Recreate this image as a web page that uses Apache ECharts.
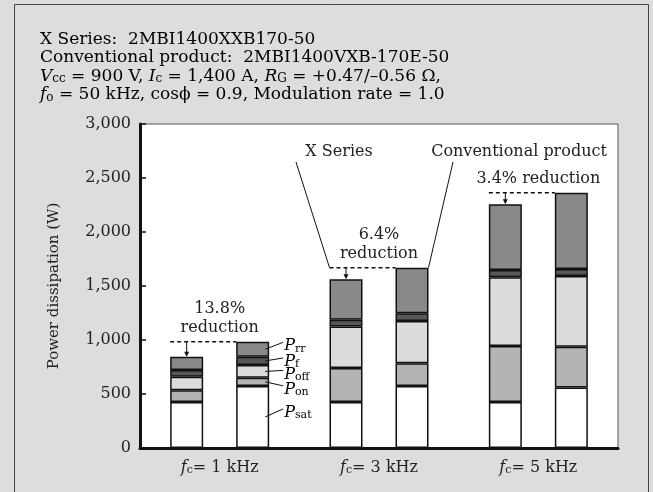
<!DOCTYPE html>
<html lang="en">

<head>
  <meta charset="UTF-8">
  <script src="https://cdn.jsdelivr.net/npm/echarts@6/dist/echarts.min.js"></script>
  <style>
    html, body { margin: 0; padding: 0; background: #dcdddc; }
    #chart { width: 653px; height: 492px; }
  </style>
</head>

<body>
  <div id="chart"></div>
  <script>
    // data (W)
    const freqs = ['1', '3', '5'];
    const components = ['Psat', 'Pon', 'Poff', 'Pf', 'Prr'];
    const compSubs = ['sat', 'on', 'off', 'f', 'rr'];
    const compColors = ['#ffffff', '#b4b4b4', '#dcdcdc', '#575757', '#898989'];

    // X Series
    const xPsat = [425, 425, 425];
    const xPon = [110, 315, 520];
    const xPoff = [125, 385, 635];
    const xPf = [62, 62, 68];
    const xPrr = [123, 375, 608];

    // Conventional product
    const cPsat = [575, 575, 560];
    const cPon = [75, 210, 378];
    const cPoff = [118, 392, 655];
    const cPf = [76, 71, 64];
    const cPrr = [140, 422, 707];

    const reductions = ['13.8%', '6.4%', '3.4%'];

    const xData = [xPsat, xPon, xPoff, xPf, xPrr];
    const cData = [cPsat, cPon, cPoff, cPf, cPrr];

    const FONT = 'DejaVu Serif';
    const BAR_W = 33;

    const rich = {
      i: { fontStyle: 'italic', fontFamily: FONT, fontSize: 16, color: '#222', lineHeight: 18, verticalAlign: 'bottom' },
      n: { fontFamily: FONT, fontSize: 16, color: '#222', lineHeight: 18, verticalAlign: 'bottom' },
      s: { fontFamily: FONT, fontSize: 11, color: '#222', lineHeight: 9, verticalAlign: 'bottom' }
    };
    // header lines are set a little larger
    const headRich = {
      i: { fontStyle: 'italic', fontFamily: FONT, fontSize: 17, color: '#222', lineHeight: 19, verticalAlign: 'bottom' },
      n: { fontFamily: FONT, fontSize: 17, color: '#222', lineHeight: 19, verticalAlign: 'bottom' },
      s: { fontFamily: FONT, fontSize: 12, color: '#222', lineHeight: 9, verticalAlign: 'bottom' }
    };

    var chart = echarts.init(document.getElementById('chart'));

    let series = [];
    components.forEach((c, k) => {
      series.push({
        name: 'X ' + c, type: 'bar', stack: 'x', data: xData[k],
        barWidth: BAR_W, barGap: '100%',
        itemStyle: { color: compColors[k], borderColor: '#111', borderWidth: 1.5 },
        animation: false
      });
    });
    components.forEach((c, k) => {
      series.push({
        name: 'C ' + c, type: 'bar', stack: 'c', data: cData[k],
        barWidth: BAR_W, barGap: '100%',
        itemStyle: { color: compColors[k], borderColor: '#111', borderWidth: 1.5 },
        animation: false
      });
    });

    let option = {
      backgroundColor: '#dcdddc',
      animation: false,
      grid: {
        left: 140, right: 35, top: 124, bottom: 44,
        show: true, backgroundColor: '#fff', borderColor: '#555', borderWidth: 1
      },
      xAxis: {
        type: 'category',
        data: freqs,
        axisLine: { lineStyle: { color: '#111', width: 3 } },
        axisTick: { inside: true, length: 6, lineStyle: { color: '#111', width: 1.5 } },
        axisLabel: {
          margin: 10,
          formatter: v => '{i|f}{s|c}{n|= ' + v + ' kHz}',
          rich: rich
        }
      },
      yAxis: {
        type: 'value',
        min: 0,
        max: 3000,
        interval: 500,
        name: 'Power dissipation (W)',
        nameLocation: 'middle',
        nameGap: 78,
        nameTextStyle: { fontFamily: FONT, fontSize: 15, color: '#222' },
        splitLine: { show: false },
        axisLine: { show: true, lineStyle: { color: '#111', width: 3 } },
        axisTick: { show: true, inside: true, length: 6, lineStyle: { color: '#111', width: 1.5 } },
        axisLabel: {
          fontFamily: FONT, fontSize: 16, color: '#222', margin: 9,
          formatter: v => v.toLocaleString('en-US')
        }
      },
      series: series
    };
    chart.setOption(option);

    // annotations placed from the data through the axes
    function totals(arrs, i) {
      return arrs.reduce((a, arr) => a + arr[i], 0);
    }
    function py(v) { return chart.convertToPixel({ yAxisIndex: 0 }, v); }
    function px(i) { return chart.convertToPixel({ xAxisIndex: 0 }, i); }

    let g = [];

    // frame
    g.push({
      type: 'rect', shape: { x: 14.5, y: 4.5, width: 634, height: 500 },
      style: { fill: 'none', stroke: '#444', lineWidth: 1 }, z: 0, silent: true
    });

    // header
    const header = [
      '{n|X Series:  2MBI1400XXB170-50}',
      '{n|Conventional product:  2MBI1400VXB-170E-50}',
      '{i|V}{s|cc}{n| = 900 V, }{i|I}{s|c}{n| = 1,400 A, }{i|R}{s|G}{n| = +0.47/–0.56 Ω,}',
      '{i|f}{s|o}{n| = 50 kHz, cosϕ = 0.9, Modulation rate = 1.0}'
    ];
    header.forEach((t, k) => {
      g.push({
        type: 'text', x: 40, y: 29 + k * 18.5, z: 10,
        style: { text: t, rich: headRich, verticalAlign: 'top' }
      });
    });

    freqs.forEach((f, i) => {
      const cx = px(i);
      const xTop = py(totals(xData, i));
      const cTop = py(totals(cData, i));
      const xLeft = cx - BAR_W - BAR_W / 2;
      const cLeft = cx + BAR_W - BAR_W / 2;
      // dashed level line
      g.push({
        type: 'line', z: 20,
        shape: { x1: xLeft, y1: cTop, x2: cLeft, y2: cTop },
        style: { stroke: '#111', lineWidth: 1.5, lineDash: [4, 3] }
      });
      // arrow down to X series top
      g.push({
        type: 'line', z: 20,
        shape: { x1: cx - BAR_W, y1: cTop, x2: cx - BAR_W, y2: xTop - 3 },
        style: { stroke: '#111', lineWidth: 1 }
      });
      g.push({
        type: 'polygon', z: 20,
        shape: { points: [[cx - BAR_W - 2.5, xTop - 5], [cx - BAR_W + 2.5, xTop - 5], [cx - BAR_W, xTop]] },
        style: { fill: '#111' }
      });
      // reduction text
      const txt = i === 2 ? reductions[i] + ' reduction' : reductions[i] + '\nreduction';
      g.push({
        type: 'text', x: cx, y: cTop - 4, z: 20,
        style: {
          text: txt, fontFamily: FONT, fontSize: 16, lineHeight: 19, fill: '#222',
          align: 'center', verticalAlign: 'bottom'
        }
      });
    });

    // X Series / Conventional product callouts (to 3 kHz bars)
    {
      const cx = px(1);
      const cTop = py(totals(cData, 1));
      const xLeft = cx - BAR_W - BAR_W / 2;
      const cRight = cx + BAR_W + BAR_W / 2;
      g.push({
        type: 'text', x: 339, y: 152, z: 20,
        style: { text: 'X Series', fontFamily: FONT, fontSize: 16, fill: '#222', align: 'center', verticalAlign: 'middle' }
      });
      g.push({
        type: 'text', x: 519, y: 152, z: 20,
        style: { text: 'Conventional product', fontFamily: FONT, fontSize: 16, fill: '#222', align: 'center', verticalAlign: 'middle' }
      });
      g.push({
        type: 'line', z: 20, shape: { x1: 296, y1: 162, x2: xLeft, y2: cTop },
        style: { stroke: '#111', lineWidth: 1 }
      });
      g.push({
        type: 'line', z: 20, shape: { x1: 453, y1: 162, x2: cRight, y2: cTop },
        style: { stroke: '#111', lineWidth: 1 }
      });
    }

    // component labels beside the 1 kHz conventional bar
    {
      const cx = px(0);
      const barRight = cx + BAR_W + BAR_W / 2;
      const labelDy = [-5, 7, 2, 0, -4];
      let base = 0;
      components.forEach((c, k) => {
        const v = cData[k][0];
        const mid = py(base + v / 2);
        base += v;
        const ly = mid + labelDy[k];
        g.push({
          type: 'line', z: 20,
          shape: { x1: barRight - 4, y1: mid, x2: barRight + 14, y2: ly - 3 },
          style: { stroke: '#111', lineWidth: 1 }
        });
        g.push({
          type: 'text', x: barRight + 15, y: ly, z: 20,
          style: { text: '{i|P}{s|' + compSubs[k] + '}', rich: rich, verticalAlign: 'middle' }
        });
      });
    }

    chart.setOption({ graphic: g });
  </script>
</body>

</html>
